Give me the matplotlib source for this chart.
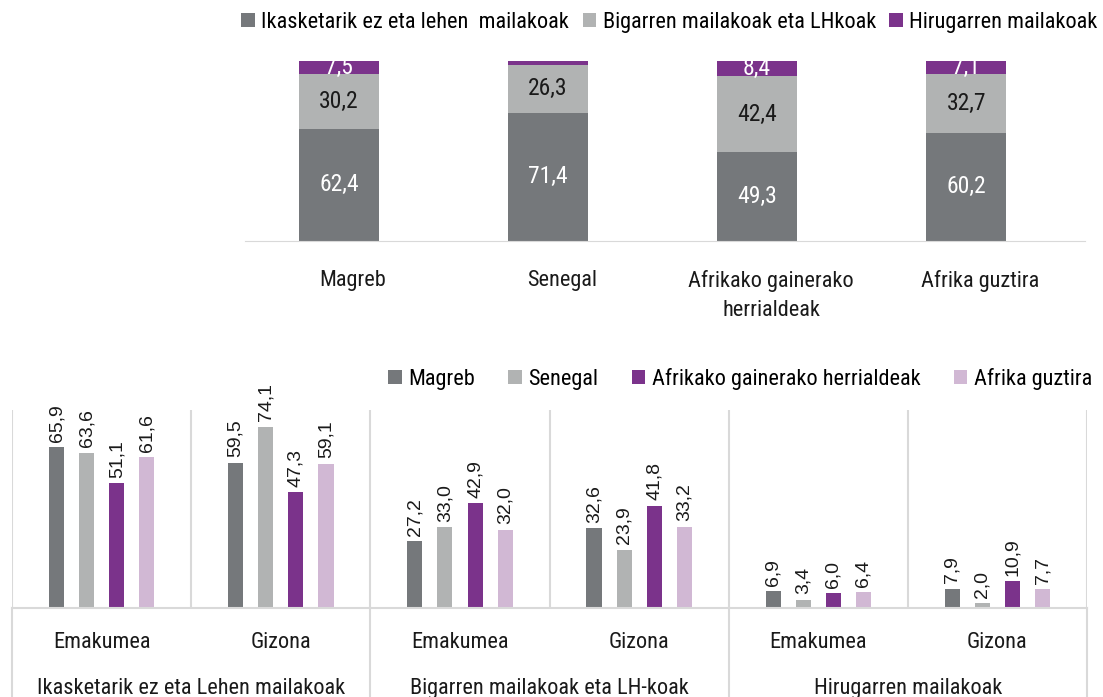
import matplotlib.pyplot as plt
import matplotlib.transforms as mtransforms
import numpy as np

plt.rcParams['font.family'] = ['Roboto Condensed', 'Liberation Sans Narrow', 'Roboto', 'DejaVu Sans']

# top chart: education level by origin (%)
regions = ['Magreb', 'Senegal', 'Afrikako gainerako\nherrialdeak', 'Afrika guztira']
lehen = [62.4, 71.4, 49.3, 60.2]
bigarren = [30.2, 26.3, 42.4, 32.7]
hirugarren = [7.5, 2.3, 8.4, 7.1]
level_names = ['Ikasketarik ez eta lehen  mailakoak', 'Bigarren mailakoak eta LHkoak', 'Hirugarren mailakoak']

# bottom chart: by level and sex
sexes = ['Emakumea', 'Gizona']
levels = ['Ikasketarik ez eta Lehen mailakoak', 'Bigarren mailakoak eta LH-koak', 'Hirugarren mailakoak']
series_names = ['Magreb', 'Senegal', 'Afrikako gainerako herrialdeak', 'Afrika guztira']
magreb = [65.9, 59.5, 27.2, 32.6, 6.9, 7.9]
senegal = [63.6, 74.1, 33.0, 23.9, 3.4, 2.0]
gainerako = [51.1, 47.3, 42.9, 41.8, 6.0, 10.9]
guztira = [61.6, 59.1, 32.0, 33.2, 6.4, 7.7]

dark = '#75787b'
light = '#b1b3b3'
purple = '#7b338b'
lilac = '#d1b8d4'
grid = '#d9d9d9'
ink = '#1a1a1a'

fig = plt.figure(figsize=(11.03, 6.97), dpi=100)

# ---- top stacked chart
ax1 = fig.add_axes([0.222, 0.654, 0.762, 0.2585])
x = np.arange(len(regions))
w = 0.38
b1 = ax1.bar(x, lehen, w, color=dark, label=level_names[0])
b2 = ax1.bar(x, bigarren, w, bottom=lehen, color=light, label=level_names[1])
bot3 = np.array(lehen) + np.array(bigarren)
b3 = ax1.bar(x, hirugarren, w, bottom=bot3, color=purple, label=level_names[2])

for i in range(len(regions)):
    ax1.text(x[i], lehen[i] / 2, f'{lehen[i]:.1f}'.replace('.', ','),
             ha='center', va='center', color='white', fontsize=17)
    ax1.text(x[i], lehen[i] + bigarren[i] / 2, f'{bigarren[i]:.1f}'.replace('.', ','),
             ha='center', va='center', color=ink, fontsize=17)
    if hirugarren[i] > 5:
        ax1.text(x[i], bot3[i] + hirugarren[i] / 2, f'{hirugarren[i]:.1f}'.replace('.', ','),
                 ha='center', va='center', color='white', fontsize=17)

ax1.set_xlim(-0.45, 3.57)
ax1.set_ylim(0, 100)
ax1.set_yticks([])
# category labels sit a little right of the bars, as in the source
ax1.set_xticks(x + 0.067)
ax1.set_xticklabels(regions, fontsize=16, color=ink, linespacing=1.5)
ax1.tick_params(axis='x', length=0, pad=21)
for s in ['top', 'right', 'left']:
    ax1.spines[s].set_visible(False)
ax1.spines['bottom'].set_color(grid)

fig.legend(handles=[b1, b2, b3], loc='center', bbox_to_anchor=(0.607, 0.968), ncol=3,
           frameon=False, fontsize=16, handlelength=0.6, handleheight=0.6,
           handletextpad=0.3, columnspacing=0.6, borderaxespad=0)

# ---- bottom grouped chart
ax2 = fig.add_axes([0.011, 0.1277, 0.9745, 0.2841])
xs = np.arange(6)
bw = 0.084
step = 0.168
colors = [dark, light, purple, lilac]
handles = []
for k, (vals, col, name) in enumerate(zip([magreb, senegal, gainerako, guztira], colors, series_names)):
    pos = xs + (k - 1.5) * step
    h = ax2.bar(pos, vals, bw, color=col, label=name)
    handles.append(h)
    for p, v in zip(pos, vals):
        ax2.text(p, v + 2.2, f'{v:.1f}'.replace('.', ','), rotation=90,
                 ha='center', va='bottom', fontsize=14, color=ink, family='Liberation Sans')

ax2.set_xlim(-0.5, 5.5)
ax2.set_ylim(0, 81)
ax2.set_yticks([])
ax2.set_xticks(xs)
ax2.set_xticklabels(sexes * 3, fontsize=16, color=ink)
ax2.tick_params(axis='x', length=0, pad=17)
for s in ['top', 'right', 'left']:
    ax2.spines[s].set_visible(False)
ax2.spines['bottom'].set_color(grid)
ax2.spines['bottom'].set_linewidth(1.5)

for b in np.arange(-0.5, 6, 1):
    ax2.axvline(b, color=grid, lw=1.5, zorder=0)

trans = mtransforms.blended_transform_factory(ax2.transData, ax2.transAxes)
for b in [-0.5, 1.5, 3.5, 5.5]:
    ax2.plot([b, b], [0, -0.45], color=grid, lw=1.5, transform=trans, clip_on=False)
for j, name in enumerate(levels):
    ax2.text(2 * j + 0.5, -0.405, name, transform=trans, ha='center', va='center',
             fontsize=16, color=ink)

fig.legend(handles=handles, loc='center', bbox_to_anchor=(0.671, 0.456), ncol=4,
           frameon=False, fontsize=16, handlelength=0.6, handleheight=0.6,
           handletextpad=0.3, columnspacing=1.5, borderaxespad=0)

fig.savefig('out.png', dpi=100)
